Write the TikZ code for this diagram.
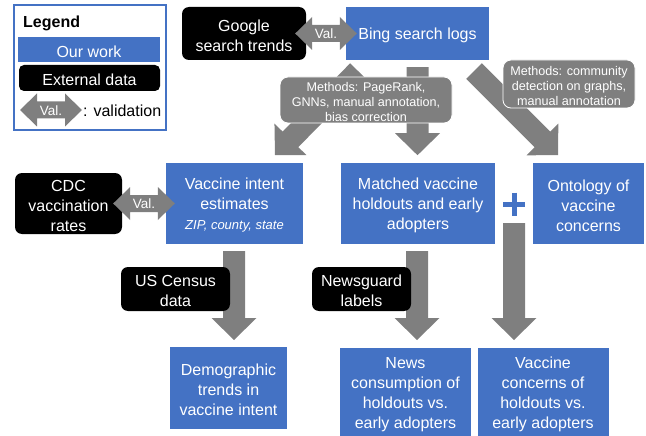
\documentclass[tikz,border=0pt]{standalone}
\usepackage{fontspec}
\setmainfont{Liberation Sans}
\usetikzlibrary{calc}
\definecolor{ourblue}{HTML}{4472C4}
\definecolor{arrgray}{HTML}{7F7F7F}
\newcommand\myfs[2]{\fontsize{#1}{#2}\selectfont}
% thick single-headed arrow from #1 to tip #2
\newcommand\fatarrow[2]{%
  \coordinate (fh) at ($(#2)!22pt!(#1)$);
  \fill[arrgray] ($(#1)!11pt!90:(#2)$) -- ($(fh)!11pt!90:(#2)$) -- ($(fh)!22.5pt!90:(#2)$) -- (#2)
    -- ($(fh)!22.5pt!-90:(#2)$) -- ($(fh)!11pt!-90:(#2)$) -- ($(#1)!11pt!-90:(#2)$) -- cycle;}
% double-headed validation arrow from #1 to #2, label node named #3
\newcommand\valarrow[3]{%
  \coordinate (va1) at ($(#1)!17pt!(#2)$);
  \coordinate (va2) at ($(#2)!17pt!(#1)$);
  \fill[arrgray] (#1) -- ($(va1)!16.5pt!90:(#2)$) -- ($(va1)!8.5pt!90:(#2)$) -- ($(va2)!8.5pt!90:(#2)$)
    -- ($(va2)!16.5pt!90:(#2)$) -- (#2) -- ($(va2)!16.5pt!-90:(#2)$) -- ($(va2)!8.5pt!-90:(#2)$)
    -- ($(va1)!8.5pt!-90:(#2)$) -- ($(va1)!16.5pt!-90:(#2)$) -- cycle;
  \node[valtext] (#3) at ($(#1)!0.5!(#2)+(0,0.5)$) {Val.};}
% box with centred text: #1 box style, #2 text style, #3 name, #4 x, #5 y, #6 w, #7 h, #8 text
\newcommand\tbox[8]{%
  \node[#1, minimum width=#6pt, minimum height=#7pt] (#3) at (#4,#5) {};
  \node[#2] (#3t) at ($(#3)+(0,2)$) {#8};}
\tikzset{
  bluebox/.style={fill=ourblue, inner sep=0pt},
  blackbox/.style={fill=black, inner sep=0pt, rounded corners=7pt},
  methbox/.style={fill=arrgray, draw=white, line width=0.8pt, inner sep=0pt, rounded corners=8pt},
  boxtxt/.style={text=white, align=center, inner sep=0pt, font=\myfs{16}{20}},
  methtxt/.style={text=white, align=center, inner sep=0pt, font=\myfs{12.6}{15}},
  valtext/.style={text=white, inner sep=0pt, font=\myfs{13.5}{15}},
}
\begin{document}
\begin{tikzpicture}[x=1pt,y=-1pt]
\useasboundingbox (0,0) rectangle (646,436);
% ---------- legend ----------
\node[draw=ourblue, line width=2pt, minimum width=152pt, minimum height=125pt, inner sep=0pt] (legend) at (90,67.5) {};
\node[anchor=west, inner sep=0pt, font=\myfs{16}{20}\bfseries] (legtitle) at (23,23) {Legend};
\tbox{bluebox}{boxtxt}{legour}{89}{49.5}{142}{25}{Our work}
\tbox{blackbox, rounded corners=5pt}{boxtxt}{legext}{89.5}{78}{141}{26}{External data}
\coordinate (lv1) at (20,110);
\coordinate (lv2) at (82,110);
\valarrow{lv1}{lv2}{legval}
\node[anchor=west, inner sep=0pt, font=\myfs{16}{20}] (legvaltxt) at (83,111) {: validation};
% ---------- boxes ----------
\tbox{blackbox}{boxtxt}{google}{244}{33.5}{124}{53}{Google\\search trends}
\tbox{bluebox}{boxtxt}{bing}{417.5}{33.5}{143}{53}{Bing search logs}
\tbox{blackbox}{boxtxt}{cdc}{68.5}{203.5}{107}{61}{CDC\\vaccination\\rates}
\tbox{bluebox}{boxtxt}{vi}{234.5}{203.5}{137}{81}{Vaccine intent\\estimates\\{\myfs{13}{20}\itshape ZIP, county, state}}
\tbox{bluebox}{boxtxt}{matched}{418}{203.5}{154}{81}{Matched vaccine\\holdouts and early\\adopters}
\tbox{bluebox}{boxtxt}{onto}{588.5}{203.5}{111}{81}{Ontology of\\vaccine\\concerns}
\tbox{bluebox}{boxtxt}{demo}{228.5}{388}{117}{82}{Demographic\\trends in\\vaccine intent}
\tbox{bluebox}{boxtxt}{news}{405.5}{392.5}{131}{89}{News\\consumption of\\holdouts vs.\\early adopters}
\tbox{bluebox}{boxtxt}{conc}{543}{392.5}{131}{89}{Vaccine\\concerns of\\holdouts vs.\\early adopters}
% ---------- plus ----------
\coordinate (plus) at (514,204);
\draw[ourblue, line width=5pt] ($(plus)+(-11,0)$) -- ($(plus)+(11,0)$) ($(plus)+(0,-11.5)$) -- ($(plus)+(0,11.5)$);
% ---------- fat arrows ----------
\coordinate (a1s) at (358,71);   \coordinate (a1e) at (275,155);
\coordinate (a2s) at ($(bing.south)+(0,7)$);  \coordinate (a2e) at ($(bing.south)+(0,95)$);
\coordinate (a3s) at (474,71);   \coordinate (a3e) at (558,155);
\fatarrow{a1s}{a1e}
\fatarrow{a2s}{a2e}
\fatarrow{a3s}{a3e}
\coordinate (b1s) at (234,251);  \coordinate (b1e) at (234,340);
\coordinate (b2s) at (417,251);  \coordinate (b2e) at (417,340);
\coordinate (b3s) at (514,223);  \coordinate (b3e) at (514,340);
\fatarrow{b1s}{b1e}
\fatarrow{b2s}{b2e}
\fatarrow{b3s}{b3e}
% ---------- validation arrows ----------
\coordinate (gv1) at ($(google.east)+(-11,0)$);
\coordinate (gv2) at ($(bing.west)+(11,0)$);
\valarrow{gv1}{gv2}{gval}
\coordinate (cv1) at ($(cdc.east)+(-9,0)$);
\coordinate (cv2) at ($(vi.west)+(9,0)$);
\valarrow{cv1}{cv2}{cval}
% ---------- method labels and external data on arrows ----------
\tbox{methbox}{methtxt}{meth1}{366}{100}{172}{46}{Methods: PageRank,\\GNNs, manual annotation,\\bias correction}
\tbox{methbox}{methtxt}{meth2}{569}{84}{132}{48}{Methods: community\\detection on graphs,\\manual annotation}
\tbox{blackbox}{boxtxt}{census}{175.5}{289}{109}{44}{US Census\\data}
\tbox{blackbox}{boxtxt}{newsg}{361.5}{289}{99}{44}{Newsguard\\labels}
\end{tikzpicture}
\end{document}
